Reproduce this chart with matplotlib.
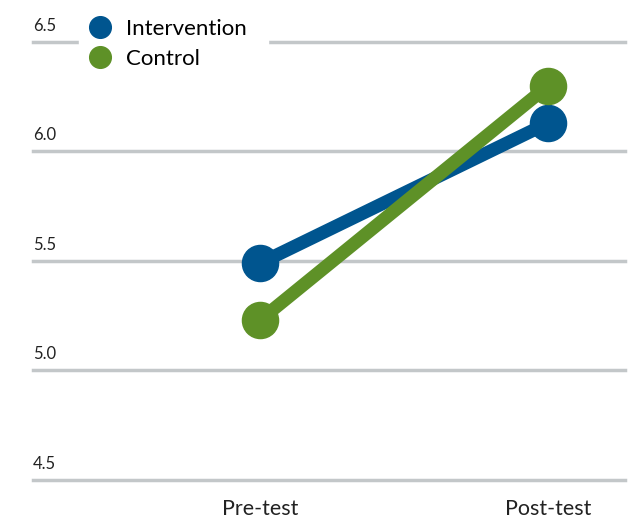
import matplotlib.pyplot as plt
import matplotlib.transforms as mtransforms

plt.rcParams['font.family'] = ['Lato', 'DejaVu Sans']

phases = ['Pre-test', 'Post-test']
intervention = [5.49, 6.13]
control = [5.23, 6.30]
yticks = [4.5, 5.0, 5.5, 6.0, 6.5]

blue = '#00558f'
green = '#5e9127'
grid = '#c3c7c9'

fig = plt.figure(figsize=(6.39, 5.2), dpi=100)
ax = fig.add_axes([33/639, 40/520, (625-33)/639, (480-42)/520])

x = list(range(len(phases)))
ax.plot(x, intervention, '-o', color=blue, lw=9.5, ms=26, label='Intervention',
        clip_on=False, zorder=3)
ax.plot(x, control, '-o', color=green, lw=9.5, ms=26, label='Control',
        clip_on=False, zorder=4)

ax.set_xlim(-0.788, 1.267)
ax.set_ylim(4.5, 6.5)
for v in yticks:
    ax.axhline(v, color=grid, lw=2.5, zorder=1, clip_on=False)
    tr = mtransforms.offset_copy(ax.get_yaxis_transform(), fig=fig, x=0, y=6, units='points')
    ax.text(0, v, f'{v:.1f}', transform=tr, ha='left', va='bottom', fontsize=12, color='#222222')

ax.set_yticks([])
ax.set_xticks(x)
ax.set_xticklabels(phases, fontsize=15.5, color='#222222')
ax.tick_params(axis='x', length=0, pad=14)
for s in ax.spines.values():
    s.set_visible(False)

leg = ax.legend(loc='upper left', bbox_to_anchor=(79/639, 1 + 2/520), bbox_transform=fig.transFigure,
                frameon=True, fontsize=16, handlelength=0, handletextpad=1.15,
                borderpad=0.95, borderaxespad=0, labelspacing=0.45, markerscale=0.6)
leg.get_frame().set_facecolor('white')
leg.get_frame().set_edgecolor('white')
leg.get_frame().set_alpha(1)
leg.get_frame().set_boxstyle('square', pad=0)
leg.set_zorder(5)

fig.savefig('out.png', dpi=100)
